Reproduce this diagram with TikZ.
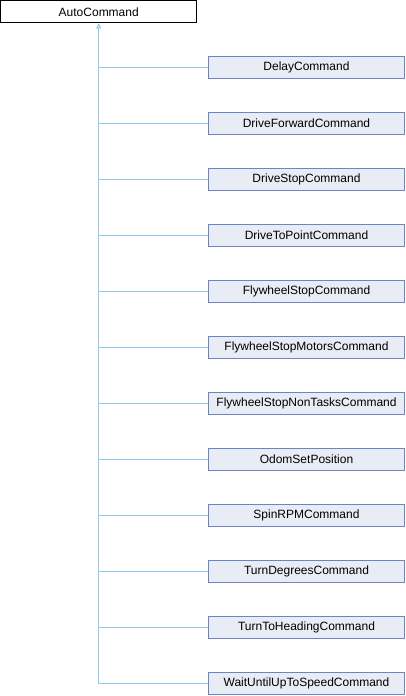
\documentclass[tikz,border=0pt]{standalone}
\usepackage{fontspec}
\setmainfont{Liberation Sans}
\usetikzlibrary{arrows.meta}
\definecolor{edgec}{HTML}{8FCAEC}
\definecolor{boxb}{HTML}{6C83C4}
\definecolor{boxf}{HTML}{E8ECF5}
\tikzset{
  basebox/.style={draw=black, fill=white, line width=1pt, minimum width=196pt, minimum height=22pt, inner sep=0pt, font=\fontsize{12}{14}\selectfont},
  childbox/.style={draw=boxb, fill=boxf, line width=1pt, minimum width=196pt, minimum height=22pt, inner sep=0pt, font=\fontsize{12}{14}\selectfont},
  edge/.style={draw=edgec, line width=1pt},
}
\begin{document}
\begin{tikzpicture}[x=1pt,y=-1pt]
\useasboundingbox (0,0) rectangle (406,696);
\node[basebox] (base) at (98.75,11.75) {AutoCommand};
\coordinate (trunk) at (98.75,684);
\draw[edge, -{Triangle[open, length=5pt, width=5pt]}] (trunk) -- (base.south);
\foreach \n/\t [count=\i from 0] in {c0/DelayCommand, c1/DriveForwardCommand, c2/DriveStopCommand, c3/DriveToPointCommand, c4/FlywheelStopCommand, c5/FlywheelStopMotorsCommand, c6/FlywheelStopNonTasksCommand, c7/OdomSetPosition, c8/SpinRPMCommand, c9/TurnDegreesCommand, c10/TurnToHeadingCommand, c11/WaitUntilUpToSpeedCommand}{
  \node[childbox] (\n) at (306.5,67.5+56*\i) {\t};
  \draw[edge] (\n.west) -- (98.75,67.5+56*\i);
}
\end{tikzpicture}
\end{document}
